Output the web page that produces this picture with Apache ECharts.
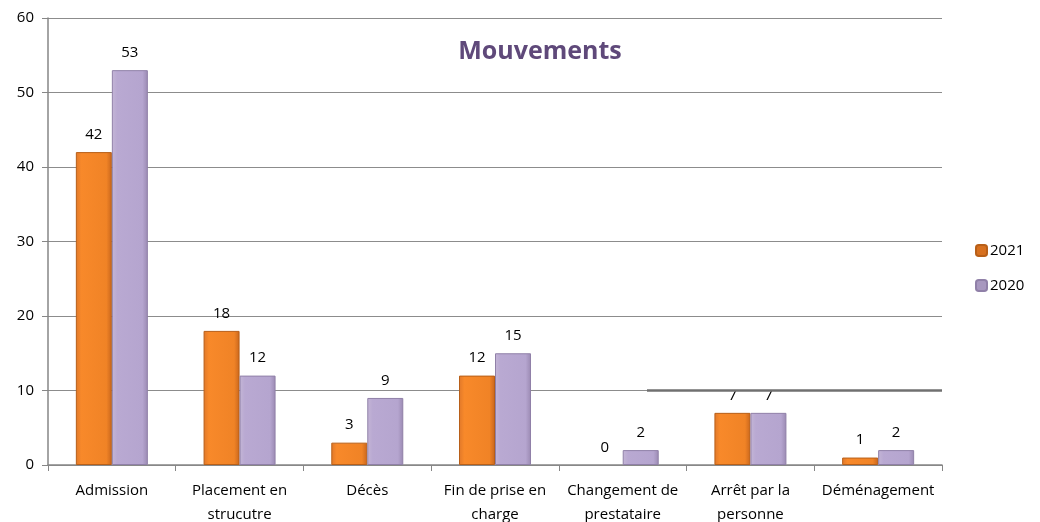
<!DOCTYPE html>
<html>
<head>
<meta charset="utf-8">
<script src="https://cdn.jsdelivr.net/npm/echarts@6/dist/echarts.min.js"></script>
<style>
  html, body { margin: 0; padding: 0; background: #fff; }
  #chart { width: 1040px; height: 522px; }
</style>
</head>
<body>
<div id="chart"></div>
<script>
const categories = [
  "Admission",
  "Placement en\nstrucutre",
  "Décès",
  "Fin de prise en\ncharge",
  "Changement de\nprestataire",
  "Arrêt par la\npersonne",
  "Déménagement",
];
const values2021 = [42, 18, 3, 12, 0, 7, 1];
const values2020 = [53, 12, 9, 15, 2, 7, 2];
const yTicks = { min: 0, max: 60, interval: 10 };

const fontFamily = "'Open Sans', 'Liberation Sans', sans-serif";

// faux 3D: horizontal gradient on each bar
const orangeFill = new echarts.graphic.LinearGradient(0, 0, 1, 0, [
  { offset: 0, color: "#e0782a" },
  { offset: 0.15, color: "#f8892a" },
  { offset: 0.85, color: "#f08326" },
  { offset: 1, color: "#c9661c" },
]);
const lavenderFill = new echarts.graphic.LinearGradient(0, 0, 1, 0, [
  { offset: 0, color: "#c4b6d6" },
  { offset: 0.15, color: "#b9a9d2" },
  { offset: 0.85, color: "#b5a5cf" },
  { offset: 1, color: "#9a89b2" },
]);

// a zero-height bar should leave no border line
function toBarData(values) {
  return values.map((v) => (v === 0 ? { value: v, itemStyle: { borderWidth: 0 } } : v));
}

const chart = echarts.init(document.getElementById("chart"));
chart.setOption({
  animation: false,
  textStyle: { fontFamily: fontFamily },
  title: {
    text: "Mouvements",
    left: 535,
    top: 34,
    textAlign: "center",
    textStyle: { color: "#5f497a", fontSize: 25, fontWeight: "bold", fontFamily: fontFamily },
  },
  legend: {
    orient: "vertical",
    left: 970,
    top: 238,
    itemWidth: 11,
    itemHeight: 11,
    itemGap: 20,
    textStyle: { fontSize: 15, color: "#000", fontFamily: fontFamily, padding: [0, 0, 0, -2] },
    data: [
      { name: "2021", itemStyle: { color: "#d7701f" } },
      { name: "2020", itemStyle: { color: "#a898bf" } },
    ],
  },
  grid: { left: 48, right: 98, top: 18, bottom: 57, containLabel: false, outerBoundsMode: "none" },
  xAxis: {
    type: "category",
    data: categories,
    axisLine: { lineStyle: { color: "#868686", width: 1.5 } },
    axisTick: { show: true, length: 6, lineStyle: { color: "#868686" } },
    axisLabel: { color: "#000", fontSize: 15, lineHeight: 24, margin: 14, interval: 0, fontFamily: fontFamily },
  },
  yAxis: {
    type: "value",
    min: yTicks.min,
    max: yTicks.max,
    interval: yTicks.interval,
    axisLine: { show: true, lineStyle: { color: "#868686", width: 1.5 } },
    axisTick: { show: true, length: 6, inside: false, lineStyle: { color: "#868686" } },
    axisLabel: { color: "#000", fontSize: 15, margin: 14, fontFamily: fontFamily },
    splitLine: { lineStyle: { color: "#8c8c8c", width: 1 } },
  },
  series: [
    {
      name: "2021",
      type: "bar",
      data: toBarData(values2021),
      barWidth: 36,
      barGap: "0%",
      itemStyle: { color: orangeFill, borderColor: "#b85f18", borderWidth: 1 },
      label: { show: true, position: "top", distance: 10, color: "#000", fontSize: 15, fontFamily: fontFamily },
      markLine: {
        silent: true,
        symbol: "none",
        label: { show: false },
        lineStyle: { color: "#707070", width: 2.5, type: "solid" },
        data: [[{ x: 647, yAxis: 10 }, { x: 942, yAxis: 10 }]],
      },
    },
    {
      name: "2020",
      type: "bar",
      data: toBarData(values2020),
      barWidth: 36,
      itemStyle: { color: lavenderFill, borderColor: "#9080a8", borderWidth: 1 },
      label: { show: true, position: "top", distance: 10, color: "#000", fontSize: 15, fontFamily: fontFamily },
    },
  ],
});
</script>
</body>
</html>
